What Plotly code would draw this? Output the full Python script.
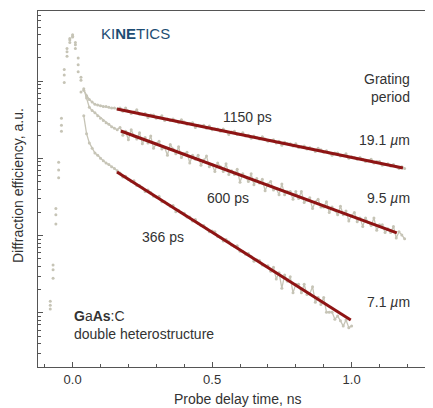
import numpy as np
import plotly.graph_objects as go

# ---------------- data (log10 of diffraction efficiency, a.u.) ----------------
t_start = -0.08
t_step = 0.01

log_eff_19um = [
    0.10, 0.56, 1.27, 1.85, 2.43, 3.08, 3.38, 3.53, 3.60, 3.47, 3.21, 3.01, 2.88,
    2.81, 2.76, 2.73, 2.70, 2.69, 2.68, 2.67, 2.67, 2.66, 2.65, 2.65, 2.64,
    2.65, 2.61, 2.65, 2.61, 2.58, 2.60, 2.63, 2.57, 2.57, 2.58, 2.53, 2.56, 2.56,
    2.52, 2.53, 2.55, 2.49, 2.51, 2.49, 2.51, 2.48, 2.46, 2.50, 2.47, 2.44, 2.45,
    2.46, 2.40, 2.43, 2.42, 2.43, 2.39, 2.42, 2.37, 2.38, 2.38, 2.35, 2.38, 2.35,
    2.31, 2.34, 2.35, 2.31, 2.31, 2.33, 2.29, 2.30, 2.26, 2.29, 2.27, 2.25, 2.28,
    2.25, 2.22, 2.23, 2.24, 2.20, 2.22, 2.17, 2.21, 2.19, 2.19, 2.16, 2.19, 2.14,
    2.15, 2.16, 2.12, 2.14, 2.12, 2.09, 2.13, 2.11, 2.08, 2.10, 2.07, 2.04, 2.07,
    2.07, 2.03, 2.04, 2.06, 2.00, 2.02, 2.01, 1.99, 2.01, 1.99, 1.96, 1.97, 1.99,
    1.94, 1.96, 1.96, 1.91, 1.92, 1.93, 1.90, 1.92, 1.89, 1.87, 1.89, 1.87,
]

log_eff_9um = [
    0.05, 0.45, 1.15, 1.75, 2.35, 2.98, 3.32, 3.50, 3.57, 3.50, 3.30, 3.05, 2.90,
    2.78, 2.66, 2.62, 2.59, 2.55, 2.52, 2.49, 2.46, 2.44, 2.41, 2.39, 2.37,
    2.40, 2.30, 2.35, 2.24, 2.37, 2.29, 2.25, 2.33, 2.19, 2.27, 2.20, 2.29, 2.13,
    2.19, 2.22, 2.12, 2.14, 2.04, 2.18, 2.12, 2.06, 2.15, 2.01, 2.06, 2.08, 1.94,
    2.04, 1.99, 2.04, 1.91, 1.98, 2.03, 1.89, 1.92, 1.83, 1.94, 1.89, 1.83, 1.93,
    1.79, 1.84, 1.79, 1.86, 1.69, 1.80, 1.76, 1.70, 1.80, 1.66, 1.74, 1.68, 1.73,
    1.58, 1.67, 1.70, 1.59, 1.61, 1.53, 1.67, 1.53, 1.57, 1.57, 1.47, 1.57, 1.48,
    1.57, 1.43, 1.46, 1.49, 1.35, 1.44, 1.47, 1.37, 1.37, 1.44, 1.30, 1.37, 1.33,
    1.27, 1.38, 1.27, 1.32, 1.19, 1.26, 1.30, 1.18, 1.23, 1.12, 1.23, 1.17, 1.13,
    1.23, 1.07, 1.14, 1.14, 1.04, 1.09, 1.04, 1.12, 0.97, 1.05, 1.01, 0.96,
]

log_eff_7um = [
    0.15, 0.62, 1.35, 1.95, 2.52, 3.15, 3.42, 3.55, 3.58, 3.42, 3.12, 2.86, 2.55,
    2.32, 2.20, 2.13, 2.07, 2.04, 2.00, 1.97, 1.94, 1.92, 1.89, 1.87, 1.84,
    1.81, 1.76, 1.77, 1.73, 1.70, 1.71, 1.65, 1.65, 1.62, 1.57, 1.59, 1.56, 1.51,
    1.50, 1.51, 1.44, 1.44, 1.41, 1.38, 1.39, 1.31, 1.33, 1.30, 1.29, 1.24, 1.24,
    1.19, 1.21, 1.16, 1.13, 1.13, 1.09, 1.05, 1.06, 1.05, 0.99, 0.98, 0.93, 0.95,
    0.92, 0.88, 0.86, 0.87, 0.80, 0.80, 0.76, 0.77, 0.73, 0.67, 0.69, 0.68, 0.62,
    0.61, 0.61, 0.54, 0.59, 0.44, 0.52, 0.32, 0.49, 0.41, 0.47, 0.26, 0.37, 0.37,
    0.26, 0.37, 0.24, 0.25, 0.34, 0.14, 0.20, 0.11, 0.20, 0.01, 0.01, 0.01, -0.08,
    -0.04, -0.10, -0.17, -0.09, -0.19, -0.17,
]

# exponential fits (start / end of each fitted line, ns and log10)
fit_labels = ["1150 ps", "600 ps", "366 ps"]
fit_t0 = [0.159, 0.173, 0.159]
fit_t1 = [1.184, 1.162, 0.997]
fit_log0 = [2.639, 2.354, 1.824]
fit_log1 = [1.876, 1.035, -0.091]

period_labels = ["19.1 <i>µ</i>m", "9.5 <i>µ</i>m", "7.1 <i>µ</i>m"]
x_tick_vals = [0.0, 0.5, 1.0]
x_tick_text = ["0.0", "0.5", "1.0"]

# ---------------- figure ----------------
OFF = 8  # page body margin of the browser
W, H = 433 - OFF, 408 - OFF
REF_L, REF_T, REF_B = 38, 11, 367      # plot box in window pixels
ML = REF_L - OFF
MT = REF_T - OFF
MB = H - (REF_B - OFF)
MR = 0
FONT = "Liberation Sans, Arial, Helvetica, sans-serif"
GRAY = "#c6c4b6"
RED = "#8e1414"
TXT = "#333333"
DECAY_FROM = 12  # index after which the samples form a dense band

fig = go.Figure()

for vals in (log_eff_19um, log_eff_9um, log_eff_7um):
    t = np.round(t_start + t_step * np.arange(len(vals)), 3)
    y = np.power(10.0, np.array(vals))
    fig.add_trace(go.Scatter(
        x=t[DECAY_FROM:], y=y[DECAY_FROM:], mode="lines",
        line=dict(color=GRAY, width=1.3),
        hoverinfo="skip", showlegend=False,
    ))
    fig.add_trace(go.Scatter(
        x=t, y=y, mode="markers",
        marker=dict(color=GRAY, size=3),
        hoverinfo="skip", showlegend=False,
    ))

for a, b, la, lb in zip(fit_t0, fit_t1, fit_log0, fit_log1):
    fig.add_trace(go.Scatter(
        x=[a, b], y=[10 ** la, 10 ** lb], mode="lines",
        line=dict(color=RED, width=3),
        hoverinfo="skip", showlegend=False,
    ))

plot_w = W - ML - MR
plot_h = H - MT - MB


def px(xp):
    return (xp - REF_L) / plot_w


def py(yp):
    return (REF_B - yp) / plot_h


annotations = []


def add_text(text, xp, yp, xanchor="center", size=14, color=TXT, align="center", **kw):
    annotations.append(dict(
        text=text, x=px(xp), y=py(yp), xref="paper", yref="paper",
        xanchor=xanchor, yanchor="middle", showarrow=False, align=align,
        font=dict(family=FONT, size=size, color=color), **kw,
    ))


add_text("KI<b>NE</b>TICS", 135, 33, color="#1d4d74", size=15)
add_text("Grating<br>period", 412, 88, xanchor="right", align="right")
add_text(fit_labels[0], 247, 117)
add_text(fit_labels[1], 228, 198)
add_text(fit_labels[2], 163, 237)
add_text(period_labels[0], 412, 140, xanchor="right")
add_text(period_labels[1], 412, 198, xanchor="right")
add_text(period_labels[2], 412, 302, xanchor="right")
add_text("<b>G</b>a<b>As</b>:C", 72, 316, xanchor="left")
add_text("double heterostructure", 72, 334, xanchor="left")
add_text("Probe delay time, ns", 238, 399)
add_text("Diffraction efficiency, a.u.", 18, 186, textangle=-90)

minor_y = [m * 10.0 ** d for d in range(-1, 4) for m in range(2, 10)]

fig.update_layout(
    width=W, height=H,
    margin=dict(l=ML, r=MR, t=MT, b=MB, pad=0),
    paper_bgcolor="white", plot_bgcolor="white",
    font=dict(family=FONT, size=13, color=TXT),
    annotations=annotations,
    xaxis=dict(
        range=[-0.124, -0.124 + plot_w / 279.0],
        showgrid=False, zeroline=False,
        showline=True, linecolor="#555555", linewidth=1, mirror=True,
        ticks="inside", ticklen=5, tickcolor="#555555",
        tickvals=x_tick_vals, ticktext=x_tick_text,
        tickfont=dict(family=FONT, size=13, color=TXT),
        minor=dict(ticks="inside", ticklen=3, dtick=0.1, tick0=0, tickcolor="#555555", showgrid=False),
    ),
    yaxis=dict(
        type="log",
        range=[-0.699, -0.699 + plot_h / 77.3],
        showgrid=False, zeroline=False,
        showline=True, linecolor="#555555", linewidth=1, mirror=False,
        ticks="inside", ticklen=5, tickcolor="#555555",
        tickvals=[0.1, 1, 10, 100, 1000], showticklabels=False,
        minor=dict(ticks="inside", ticklen=3, tickvals=minor_y, tickcolor="#555555", showgrid=False),
    ),
)

fig.write_html("out.html")
